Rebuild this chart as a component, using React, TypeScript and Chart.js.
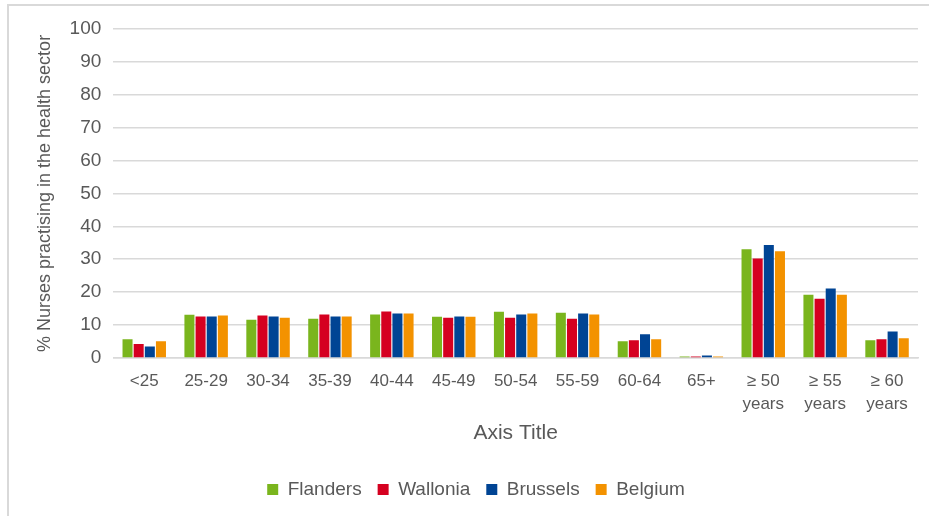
import React, { useEffect, useRef } from "react";
import { Chart, registerables } from "chart.js";

Chart.register(...registerables);

const categories: (string | string[])[] = [
  "<25", "25-29", "30-34", "35-39", "40-44", "45-49", "50-54", "55-59", "60-64", "65+",
  ["≥ 50", "years"], ["≥ 55", "years"], ["≥ 60", "years"],
];
const flanders = [5.7, 13.1, 11.6, 11.9, 13.2, 12.5, 14.0, 13.7, 5.1, 0.4, 33.0, 19.2, 5.4];
const wallonia = [4.2, 12.6, 12.9, 13.2, 14.1, 12.2, 12.2, 11.9, 5.4, 0.4, 30.2, 18.0, 5.7];
const brussels = [3.5, 12.6, 12.6, 12.6, 13.5, 12.6, 13.2, 13.5, 7.2, 0.7, 34.3, 21.1, 8.0];
const belgium = [5.1, 12.9, 12.2, 12.6, 13.5, 12.5, 13.5, 13.2, 5.7, 0.4, 32.4, 19.2, 6.0];

const FONT = "'Liberation Sans', Arial, sans-serif";
const TEXT = "#595959";
const GRID = "#d9d9d9";

export default function App() {
  const ref = useRef<HTMLCanvasElement | null>(null);
  useEffect(() => {
    if (!ref.current) return;
    const ds = (label: string, data: number[], color: string) => ({
      label,
      data,
      backgroundColor: color,
      borderWidth: 0,
      categoryPercentage: 0.72,
      barPercentage: 0.9,
    });
    const chart = new Chart(ref.current, {
      type: "bar",
      data: {
        labels: categories,
        datasets: [
          ds("Flanders", flanders, "#7ab51d"),
          ds("Wallonia", wallonia, "#d50020"),
          ds("Brussels", brussels, "#004494"),
          ds("Belgium", belgium, "#f39200"),
        ],
      },
      options: {
        animation: false,
        responsive: false,
        maintainAspectRatio: false,
        layout: { padding: { left: 34, right: 11, top: 29, bottom: 7 } },
        plugins: {
          tooltip: { enabled: false },
          legend: {
            position: "bottom",
            labels: {
              boxWidth: 11,
              boxHeight: 11,
              padding: 16,
              color: TEXT,
              font: { family: FONT, size: 19 },
            },
          },
        },
        scales: {
          x: {
            grid: { display: false, drawTicks: false },
            border: { display: true, color: GRID, width: 1.5 },
            ticks: {
              color: TEXT,
              font: { family: FONT, size: 17, lineHeight: 1.35 },
              maxRotation: 0,
              autoSkip: false,
              padding: 12,
            },
            title: {
              display: true,
              text: "Axis Title",
              color: TEXT,
              font: { family: FONT, size: 21 },
              padding: { top: -7, bottom: 18 },
            },
          },
          y: {
            min: 0,
            max: 100,
            ticks: {
              stepSize: 10,
              color: TEXT,
              font: { family: FONT, size: 19 },
              padding: 12,
            },
            grid: { color: GRID, lineWidth: 1.5, drawTicks: false },
            border: { display: false },
            title: {
              display: true,
              text: "% Nurses practising in the health sector",
              color: TEXT,
              font: { family: FONT, size: 18 },
              padding: { top: 0, bottom: 2 },
            },
          },
        },
      },
    });
    return () => chart.destroy();
  }, []);
  return (
    <div style={{ position: "fixed", left: 0, top: 0, width: 929, height: 516, background: "#fff" }}>
      <div
        style={{
          position: "absolute",
          left: 7,
          top: 4,
          width: 929,
          height: 520,
          borderTop: `2px solid ${GRID}`,
          borderLeft: `2px solid ${GRID}`,
          boxSizing: "border-box",
        }}
      />
      <canvas ref={ref} width={929} height={516} style={{ position: "absolute", left: 0, top: 0 }} />
    </div>
  );
}
